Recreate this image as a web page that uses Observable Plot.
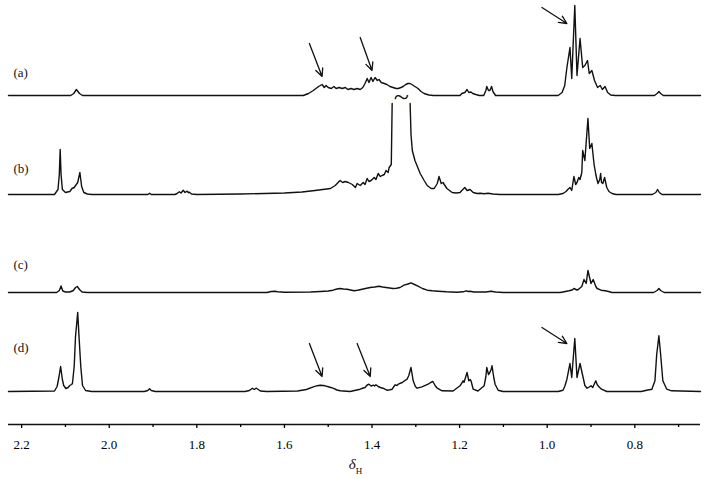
<!DOCTYPE html>
<html><head><meta charset="utf-8">
<script src="https://cdn.jsdelivr.net/npm/d3@7"></script>
<script src="https://cdn.jsdelivr.net/npm/@observablehq/plot@0.6"></script>
<style>body{margin:0;background:#fff} svg text{font-family:"Liberation Serif","Times New Roman",serif}</style>
</head><body><div id="chart"></div>
<script>
// ---- data: [chemical shift (ppm), intensity (arbitrary units)] ----
const labels = ["(a)", "(b)", "(c)", "(d)"];

const traceA = [[2.23,0],[2.088,0],[2.081,2],[2.075,6],[2.068,2],[2.061,0],[1.557,0],[1.545,2],[1.534,5],[1.522,9],[1.518,10],[1.514,11],[1.509,8],[1.505,10],[1.500,8],[1.493,7],[1.487,9],[1.482,7],[1.475,8],[1.468,7],[1.461,8],[1.455,6],[1.448,7],[1.441,6],[1.434,7],[1.427,6],[1.421,8],[1.416,12],[1.411,17],[1.407,13],[1.402,18],[1.398,14],[1.393,18],[1.388,15],[1.384,16],[1.379,13],[1.372,12],[1.366,11],[1.359,9],[1.352,8],[1.345,7],[1.340,7],[1.334,8],[1.329,9],[1.323,11],[1.318,12],[1.313,12],[1.309,11],[1.302,9],[1.295,7],[1.288,4],[1.281,2],[1.270,0.5],[1.260,0],[1.199,0],[1.195,2],[1.188,3],[1.183,6],[1.179,3],[1.174,3.5],[1.170,2],[1.163,1],[1.155,0],[1.145,0],[1.140,5],[1.138,9],[1.134,5],[1.131,5],[1.127,9],[1.124,4],[1.118,0],[0.975,0],[0.966,3],[0.960,10],[0.955,28],[0.948,48],[0.944,17],[0.937,90],[0.932,20],[0.925,57],[0.919,28],[0.914,30],[0.908,35],[0.904,22],[0.898,25],[0.892,15],[0.885,8],[0.879,10],[0.874,6],[0.868,9],[0.862,3],[0.855,0.5],[0.845,0],[0.755,0],[0.749,2],[0.745,4],[0.741,2],[0.735,0],[0.65,0]];

const traceB = [[2.23,0],[2.125,0],[2.117,5],[2.114,20],[2.112,45],[2.110,20],[2.107,5],[2.100,2],[2.090,3],[2.085,6],[2.080,7],[2.072,12],[2.067,22],[2.063,8],[2.058,2],[2.050,0.5],[2.040,0],[1.912,0],[1.908,1.2],[1.904,0],[1.850,0],[1.845,1],[1.840,2.7],[1.836,1.5],[1.831,4.3],[1.827,2],[1.822,3.3],[1.819,1.8],[1.817,2.3],[1.812,0.5],[1.800,0],[1.700,0.5],[1.600,1.5],[1.560,2.5],[1.530,4],[1.495,6],[1.484,9],[1.473,14],[1.467,12],[1.461,13],[1.454,12],[1.445,10],[1.438,7],[1.434,11],[1.427,9],[1.420,12],[1.416,10],[1.411,16],[1.407,13],[1.402,14],[1.395,17],[1.391,15],[1.386,21],[1.381,18],[1.377,19],[1.372,20],[1.368,24],[1.363,22],[1.361,27],[1.356,30],[1.354,91],[1.333,null],[1.313,91],[1.311,60],[1.308,44],[1.302,34],[1.290,21],[1.281,14],[1.274,9],[1.265,6],[1.258,6],[1.251,11],[1.247,18],[1.242,11],[1.238,12],[1.229,6],[1.217,2],[1.208,1.5],[1.199,2],[1.195,4],[1.188,7],[1.183,4],[1.176,5],[1.169,2],[1.160,1],[1.153,1.3],[1.144,0.7],[1.135,1.2],[1.124,0.5],[1.108,0],[0.975,0],[0.964,1],[0.957,3],[0.953,5],[0.948,7],[0.944,4],[0.939,18],[0.935,10],[0.932,12],[0.928,17],[0.925,15],[0.921,22],[0.919,44],[0.914,34],[0.907,76],[0.903,46],[0.898,51],[0.893,30],[0.889,20],[0.887,16],[0.884,11],[0.880,15],[0.878,21],[0.876,12],[0.873,11],[0.869,17],[0.864,7],[0.859,3],[0.852,1],[0.843,0],[0.760,0],[0.752,2],[0.748,5],[0.744,2],[0.738,0],[0.65,0]];

const traceC = [[2.23,0],[2.120,0],[2.114,2],[2.110,6.5],[2.106,1.5],[2.100,0.5],[2.090,0.5],[2.082,2],[2.077,5],[2.073,6],[2.068,3],[2.062,0.5],[2.050,0],[1.640,0],[1.630,1],[1.623,1.3],[1.615,0.7],[1.600,0.3],[1.540,0.5],[1.518,1],[1.500,1.5],[1.489,2.3],[1.480,3.5],[1.473,4],[1.465,3.5],[1.457,3.3],[1.449,2.5],[1.441,1.7],[1.433,2.2],[1.425,3],[1.415,4],[1.404,5],[1.394,5.5],[1.384,6.3],[1.376,5.5],[1.368,5],[1.360,4.5],[1.352,4],[1.344,4.3],[1.336,5],[1.327,7.3],[1.318,8.5],[1.311,9.7],[1.303,8],[1.295,6.3],[1.285,4],[1.274,2.3],[1.262,1.7],[1.249,1.3],[1.230,0.7],[1.206,0.3],[1.192,0.7],[1.185,1.7],[1.180,1],[1.176,1.3],[1.168,0.5],[1.140,0.5],[1.128,1.3],[1.118,0.5],[1.100,0],[0.970,0],[0.950,1.7],[0.943,2.5],[0.939,4],[0.932,2.5],[0.929,3],[0.921,6],[0.916,13],[0.911,9],[0.907,22],[0.900,9],[0.895,13],[0.889,6],[0.886,4],[0.877,2.3],[0.868,1.7],[0.860,1],[0.852,0],[0.757,0],[0.749,2],[0.745,4],[0.741,2],[0.733,0],[0.65,0]];

const traceD = [[2.23,0],[2.125,0.5],[2.119,5],[2.115,14],[2.111,25],[2.107,12],[2.104,6],[2.099,3],[2.094,4],[2.090,6],[2.086,7],[2.084,8],[2.080,25],[2.077,55],[2.072,79],[2.069,55],[2.065,25],[2.061,6],[2.054,1],[2.040,0],[1.920,0],[1.912,1],[1.908,2.7],[1.904,1],[1.895,0],[1.690,0],[1.680,1],[1.673,3.3],[1.669,2],[1.664,3.3],[1.655,0.5],[1.640,0],[1.570,0.5],[1.550,2],[1.534,4.7],[1.525,5.8],[1.518,6.3],[1.512,6],[1.507,5.7],[1.498,4.5],[1.489,3.3],[1.480,1.5],[1.473,0.7],[1.450,0],[1.427,2.3],[1.420,3.5],[1.416,4],[1.411,6.5],[1.407,7.3],[1.402,5.5],[1.397,6.3],[1.394,5.5],[1.391,6.7],[1.386,5],[1.381,4],[1.375,3.3],[1.366,1.3],[1.359,1.8],[1.354,2.3],[1.350,5],[1.347,6.7],[1.343,6],[1.340,7.3],[1.331,9],[1.320,12.3],[1.316,16],[1.311,24],[1.306,10.7],[1.301,5],[1.297,3.3],[1.286,4.7],[1.272,7.3],[1.266,9],[1.261,10],[1.256,6],[1.251,3.3],[1.240,0.7],[1.215,0.5],[1.199,5.7],[1.192,10.7],[1.190,9],[1.183,19],[1.179,10.7],[1.176,12],[1.174,10.7],[1.169,2.3],[1.158,0.5],[1.144,5.7],[1.140,15],[1.138,24],[1.134,17],[1.131,19],[1.128,22],[1.126,25.7],[1.122,14],[1.119,7.3],[1.112,1.3],[1.101,0],[0.975,0],[0.964,1.3],[0.960,5],[0.955,12.3],[0.948,28],[0.944,14],[0.937,53],[0.932,14],[0.925,28],[0.919,16],[0.914,6],[0.909,3.3],[0.904,4.5],[0.900,5.7],[0.896,4],[0.892,8],[0.889,10.7],[0.886,7],[0.882,4.7],[0.876,2.3],[0.864,0],[0.785,0],[0.773,1.3],[0.761,2.3],[0.754,10.7],[0.750,37],[0.745,55.7],[0.741,37],[0.736,10.7],[0.727,2.3],[0.716,0.7],[0.65,0]];

const majorTicks = [2.2, 2.0, 1.8, 1.6, 1.4, 1.2, 1.0, 0.8];
const minorTicks = [2.1, 1.9, 1.7, 1.5, 1.3, 1.1, 0.9, 0.7];

// annotation arrows (tail -> head), ppm and intensity above the trace baseline
const arrowTrace  = ["(a)", "(a)", "(a)", "(d)", "(d)", "(d)"];
const arrowFromPpm = [1.543, 1.427, 1.012, 1.543, 1.434, 1.012];
const arrowFromInt = [52, 58, 88, 48, 48, 64];
const arrowToPpm   = [1.514, 1.400, 0.955, 1.514, 1.404, 0.955];
const arrowToInt   = [19, 25, 72, 15, 15, 48];

const breakMark = "~";          // truncated peak in (b)
const breakPpm = 1.333, breakInt = 97;
const axisSymbol = "δ", axisSub = "H";

// ---- layout (pixels) ----
const AXIS_Y = 424;
const baselinePx = {"(a)": 95, "(b)": 194, "(c)": 292, "(d)": 391};
const labelPx = {"(a)": 72, "(b)": 168, "(c)": 264, "(d)": 347};
const off = k => AXIS_Y - baselinePx[k];

const traces = {"(a)": traceA, "(b)": traceB, "(c)": traceC, "(d)": traceD};
const rows = labels.flatMap(k => traces[k].map(([ppm, v]) => ({
  trace: k, ppm, y: v == null ? NaN : v + off(k)
})));
const arrows = arrowTrace.map((k, i) => ({
  x1: arrowFromPpm[i], y1: arrowFromInt[i] + off(k),
  x2: arrowToPpm[i], y2: arrowToInt[i] + off(k)
}));

const serif = "Liberation Serif";

const chart = Plot.plot({
  width: 713, height: 479,
  marginTop: 0, marginBottom: 55, marginLeft: 8, marginRight: 13,
  x: {domain: [2.23, 0.65]},
  y: {domain: [0, AXIS_Y], axis: null},
  style: {fontFamily: serif, background: "white", color: "black"},
  marks: [
    Plot.ruleY([0], {stroke: "#111", strokeWidth: 1.5}),
    Plot.axisX(majorTicks, {tickSize: 4, tickPadding: 11, tickFormat: d => d.toFixed(1), fontSize: 13, fontFamily: serif, strokeWidth: 1.3, label: null}),
    Plot.axisX(minorTicks, {tickSize: 3, tickFormat: () => "", strokeWidth: 1.3, label: null}),
    Plot.line(rows, {x: "ppm", y: "y", z: "trace", stroke: "#111", strokeWidth: 1.4, curve: "linear"}),
    Plot.arrow(arrows, {x1: "x1", y1: "y1", x2: "x2", y2: "y2", stroke: "#111", strokeWidth: 1.3, headLength: 10, headAngle: 50}),
    Plot.text([breakMark], {x: breakPpm, y: breakInt + off("(b)"), fontSize: 28, fontWeight: 200, fontFamily: "DejaVu Sans", fill: "#111"}),
    Plot.text(labels, {frameAnchor: "left", y: d => AXIS_Y - labelPx[d], dx: 5, textAnchor: "start", fontSize: 13, fontFamily: serif, fill: "#111"}),
    Plot.text([axisSymbol], {x: 1.437, frameAnchor: "bottom", dy: 44, textAnchor: "end", fontStyle: "italic", fontSize: 15, fontFamily: serif, fill: "#111"}),
    Plot.text([axisSub], {x: 1.437, frameAnchor: "bottom", dy: 49, textAnchor: "start", fontSize: 9, fontFamily: serif, fill: "#111"})
  ]
});
document.getElementById("chart").appendChild(chart);
</script>
</body></html>
